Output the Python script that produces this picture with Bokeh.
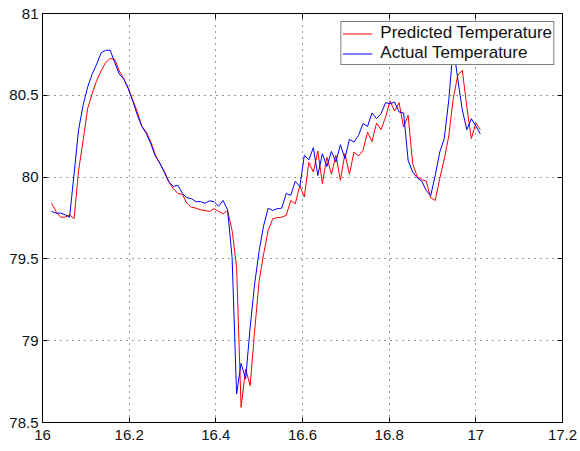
from bokeh.plotting import figure
from bokeh.models import (Range1d, FixedTicker, LinearAxis, NumeralTickFormatter,
                          Legend, LegendItem)
from bokeh.embed import file_html
from bokeh.resources import INLINE

# Sample times (days), one reading every 15 minutes
time_days = [
    16.0208, 16.0313, 16.0417, 16.0521, 16.0625, 16.0729, 16.0833, 16.0938,
    16.1042, 16.1146, 16.1250, 16.1354, 16.1458, 16.1563, 16.1667, 16.1771,
    16.1875, 16.1979, 16.2083, 16.2188, 16.2292, 16.2396, 16.2500, 16.2604,
    16.2708, 16.2813, 16.2917, 16.3021, 16.3125, 16.3229, 16.3333, 16.3438,
    16.3542, 16.3646, 16.3750, 16.3854, 16.3958, 16.4063, 16.4167, 16.4271,
    16.4375, 16.4479, 16.4583, 16.4688, 16.4792, 16.4896, 16.5000, 16.5104,
    16.5208, 16.5313, 16.5417, 16.5521, 16.5625, 16.5729, 16.5833, 16.5938,
    16.6042, 16.6146, 16.6250, 16.6354, 16.6458, 16.6563, 16.6667, 16.6771,
    16.6875, 16.6979, 16.7083, 16.7188, 16.7292, 16.7396, 16.7500, 16.7604,
    16.7708, 16.7813, 16.7917, 16.8021, 16.8125, 16.8229, 16.8333, 16.8438,
    16.8542, 16.8646, 16.8750, 16.8854, 16.8958, 16.9063, 16.9167, 16.9271,
    16.9375, 16.9479, 16.9583, 16.9688, 16.9792, 16.9896, 17.0000, 17.0104,
]

predicted_temp = [
    79.84, 79.79, 79.755, 79.755, 79.77, 79.745, 80.04, 80.225,
    80.42, 80.51, 80.59, 80.65, 80.70, 80.725, 80.72, 80.65,
    80.60, 80.545, 80.47, 80.40, 80.31, 80.275, 80.214, 80.137,
    80.082, 80.035, 79.97, 79.929, 79.90, 79.894, 79.84, 79.816,
    79.81, 79.80, 79.796, 79.79, 79.807, 79.79, 79.776, 79.796,
    79.674, 79.45, 78.592, 78.827, 78.725, 79.062, 79.368, 79.531,
    79.674, 79.745, 79.752, 79.755, 79.766, 79.857, 79.837, 79.949,
    79.878, 80.09, 80.031, 80.159, 79.96, 80.122, 80.017, 80.133,
    79.98, 80.143, 80.017, 80.153, 80.129, 80.163, 80.275, 80.218,
    80.33, 80.29, 80.367, 80.465, 80.404, 80.455, 80.306, 80.378,
    80.082, 80.004, 79.984, 79.976, 79.874, 79.857, 79.99, 80.11,
    80.25, 80.48, 80.622, 80.653, 80.43, 80.235, 80.33, 80.29,
]

actual_temp = [
    79.79, 79.78, 79.78, 79.77, 79.755, 80.02, 80.29, 80.44,
    80.55, 80.63, 80.69, 80.76, 80.775, 80.775, 80.70, 80.63,
    80.60, 80.54, 80.465, 80.38, 80.31, 80.266, 80.204, 80.127,
    80.086, 80.027, 79.97, 79.943, 79.95, 79.90, 79.874, 79.868,
    79.85, 79.85, 79.84, 79.855, 79.85, 79.822, 79.857, 79.80,
    79.51, 78.674, 78.862, 78.766, 79.082, 79.348, 79.551, 79.704,
    79.81, 79.796, 79.807, 79.81, 79.90, 79.888, 79.974, 79.943,
    80.133, 80.106, 80.18, 80.01, 80.143, 80.065, 80.157, 80.092,
    80.198, 80.113, 80.231, 80.214, 80.255, 80.327, 80.31, 80.392,
    80.357, 80.388, 80.455, 80.449, 80.459, 80.398, 80.392, 80.102,
    80.031, 79.996, 79.976, 79.919, 79.886, 80.01, 80.153, 80.235,
    80.47, 80.80, 80.60, 80.41, 80.29, 80.357, 80.313, 80.263,
]

x_ticks = [16.0, 16.2, 16.4, 16.6, 16.8, 17.0, 17.2]
y_ticks = [78.5, 79.0, 79.5, 80.0, 80.5, 81.0]

FONT = "Liberation Sans"
TICK_FONT_SIZE = "15px"
LEGEND_FONT_SIZE = "17px"

p = figure(width=580, height=451, output_backend="svg", toolbar_location=None,
           x_range=Range1d(16.0, 17.2), y_range=Range1d(78.5, 81.0),
           x_axis_location=None, y_axis_location=None,
           min_border_left=42, min_border_right=18,
           min_border_top=13, min_border_bottom=29)
p.background_fill_color = "white"
p.border_fill_color = "white"
p.outline_line_color = "black"
p.outline_line_width = 1


def labelled_axis(ticks, standoff):
    ax = LinearAxis(ticker=FixedTicker(ticks=ticks),
                    formatter=NumeralTickFormatter(format="0.[0]"))
    ax.axis_line_color = "black"
    ax.major_tick_line_color = "black"
    ax.major_tick_in = 5
    ax.major_tick_out = 0
    ax.minor_tick_line_color = None
    ax.major_label_text_font = FONT
    ax.major_label_text_font_size = TICK_FONT_SIZE
    ax.major_label_text_color = "#111111"
    ax.major_label_standoff = standoff
    return ax


def mirror_axis(ticks):
    # Opposite side of the box: inward tick marks only, no labels
    ax = LinearAxis(ticker=FixedTicker(ticks=[], minor_ticks=ticks))
    ax.axis_line_color = "black"
    ax.major_tick_line_color = None
    ax.minor_tick_line_color = "black"
    ax.minor_tick_in = 5
    ax.minor_tick_out = 0
    ax.major_label_standoff = 0
    return ax


p.add_layout(labelled_axis(x_ticks, 7), "below")
p.add_layout(labelled_axis(y_ticks, 4), "left")
p.add_layout(mirror_axis(x_ticks), "above")
p.add_layout(mirror_axis(y_ticks), "right")

# Dotted grid at every labelled tick
p.xgrid.ticker = FixedTicker(ticks=x_ticks)
p.ygrid.ticker = FixedTicker(ticks=y_ticks)
for g in (p.xgrid, p.ygrid):
    g.grid_line_color = "#222222"
    g.grid_line_dash = "1 5"
    g.grid_line_width = 1
    g.grid_line_alpha = 0.9

r_pred = p.line(time_days, predicted_temp, line_color="#ff0000", line_width=1)
r_act = p.line(time_days, actual_temp, line_color="#0000ff", line_width=1)

legend = Legend(items=[LegendItem(label="Predicted Temperature", renderers=[r_pred]),
                       LegendItem(label="Actual Temperature", renderers=[r_act])],
                location="top_right")
legend.margin = 8
legend.padding = 1
legend.spacing = 0
legend.glyph_width = 30
legend.glyph_height = 17
legend.label_height = 17
legend.label_standoff = 8
legend.label_text_font = FONT
legend.label_text_font_size = LEGEND_FONT_SIZE
legend.label_text_line_height = 1.0
legend.label_text_color = "#111111"
legend.border_line_color = "black"
legend.border_line_width = 1
legend.background_fill_color = "white"
legend.background_fill_alpha = 1.0
p.add_layout(legend)

open("out.html", "w").write(file_html(p, INLINE))
